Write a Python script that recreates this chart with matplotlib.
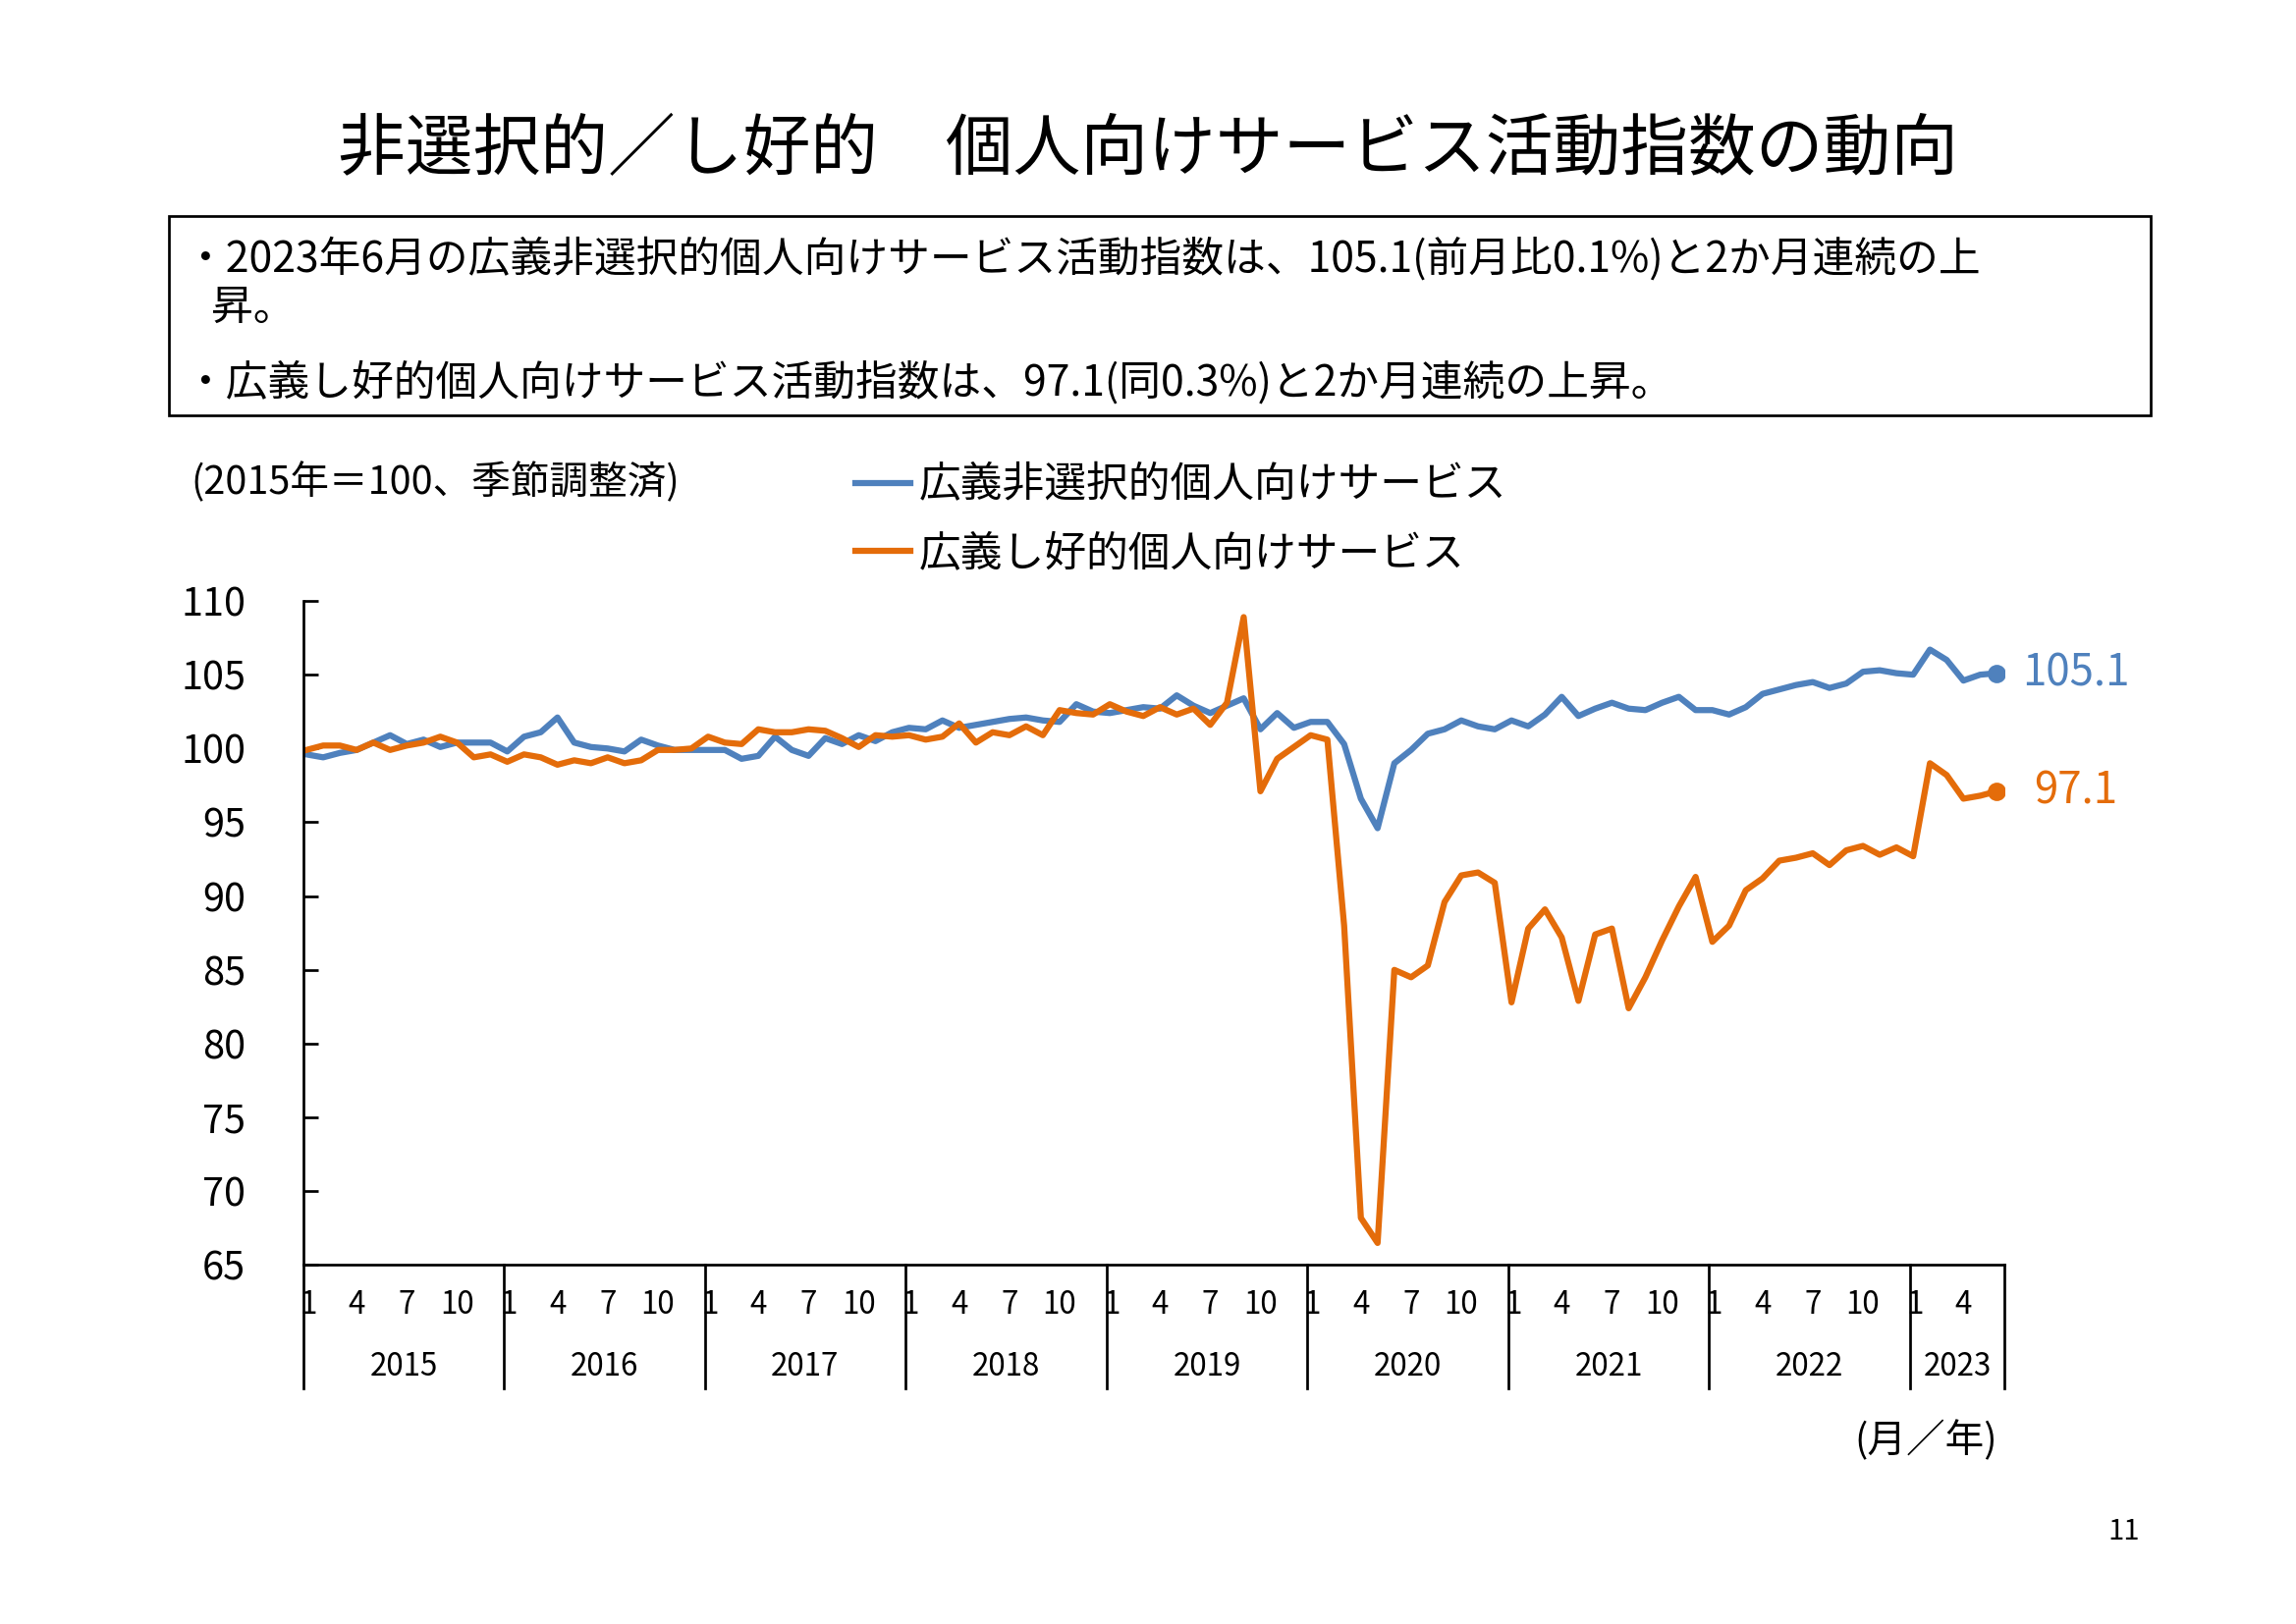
import matplotlib.pyplot as plt
from matplotlib.patches import Rectangle

plt.rcParams["font.family"] = "Noto Sans CJK JP"

YEARS = ["2015", "2016", "2017", "2018", "2019", "2020", "2021", "2022", "2023"]
MONTH_TICKS = ["1", "4", "7", "10"]

NON_SELECTIVE = [
    99.6, 99.4, 99.7, 99.9, 100.4, 100.9, 100.3, 100.6, 100.1, 100.4, 100.4, 100.4,
    99.8, 100.8, 101.1, 102.1, 100.4, 100.1, 100.0, 99.8, 100.6, 100.2, 99.9, 99.9,
    99.9, 99.9, 99.3, 99.5, 100.8, 99.9, 99.5, 100.7, 100.3, 100.9, 100.5, 101.1,
    101.4, 101.3, 101.9, 101.4, 101.6, 101.8, 102.0, 102.1, 101.9, 101.8, 103.0, 102.5,
    102.4, 102.6, 102.8, 102.7, 103.6, 102.9, 102.4, 102.9, 103.4, 101.3, 102.4, 101.4,
    101.8, 101.8, 100.3, 96.6, 94.6, 99.0, 99.9, 101.0, 101.3, 101.9, 101.5, 101.3,
    101.9, 101.5, 102.3, 103.5, 102.2, 102.7, 103.1, 102.7, 102.6, 103.1, 103.5, 102.6,
    102.6, 102.3, 102.8, 103.7, 104.0, 104.3, 104.5, 104.1, 104.4, 105.2, 105.3, 105.1,
    105.0, 106.7, 106.0, 104.6, 105.0, 105.1,
]
SELECTIVE = [
    99.9, 100.2, 100.2, 99.9, 100.4, 99.9, 100.2, 100.4, 100.8, 100.4, 99.4, 99.6,
    99.1, 99.6, 99.4, 98.9, 99.2, 99.0, 99.4, 99.0, 99.2, 99.9, 99.9, 100.0,
    100.8, 100.4, 100.3, 101.3, 101.1, 101.1, 101.3, 101.2, 100.7, 100.1, 100.9, 100.8,
    100.9, 100.6, 100.8, 101.7, 100.4, 101.1, 100.9, 101.5, 100.9, 102.6, 102.4, 102.3,
    103.0, 102.5, 102.2, 102.8, 102.3, 102.7, 101.6, 103.1, 108.9, 97.1, 99.3, 100.1,
    100.9, 100.6, 88.0, 68.2, 66.5, 85.0, 84.5, 85.3, 89.6, 91.4, 91.6, 90.9,
    82.8, 87.8, 89.1, 87.2, 82.9, 87.4, 87.8, 82.4, 84.5, 87.0, 89.3, 91.3,
    86.9, 88.0, 90.4, 91.2, 92.4, 92.6, 92.9, 92.1, 93.1, 93.4, 92.8, 93.3,
    92.7, 99.0, 98.2, 96.6, 96.8, 97.1,
]

BLUE = "#4f81bd"
ORANGE = "#e46c0a"

fig = plt.figure(figsize=(2338 / 150, 1654 / 150), dpi=150)
fig.text(0.5, 0.907, "非選択的／し好的　個人向けサービス活動指数の動向",
         ha="center", va="center", fontsize=33)
fig.patches.append(Rectangle((0.0735, 0.744), 0.863, 0.123, transform=fig.transFigure,
                             fill=False, edgecolor="black", linewidth=1.3))
fig.text(0.080, 0.840, "・2023年6月の広義非選択的個人向けサービス活動指数は、105.1(前月比0.1%)と2か月連続の上",
         fontsize=20.5, va="center")
fig.text(0.092, 0.810, "昇。", fontsize=20.5, va="center")
fig.text(0.080, 0.764, "・広義し好的個人向けサービス活動指数は、97.1(同0.3%)と2か月連続の上昇。",
         fontsize=20.5, va="center")
fig.text(0.083, 0.703, "(2015年＝100、季節調整済)", fontsize=19, va="center")
fig.text(0.870, 0.113, "(月／年)", fontsize=19, va="center", ha="right")
fig.text(0.932, 0.057, "11", fontsize=14, va="center", ha="right")

ax = fig.add_axes([0.132, 0.221, 0.741, 0.409])
x = list(range(len(NON_SELECTIVE)))
ax.plot(x, NON_SELECTIVE, color=BLUE, lw=3, label="広義非選択的個人向けサービス")
ax.plot(x, SELECTIVE, color=ORANGE, lw=3, label="広義し好的個人向けサービス")
ax.plot(x[-1], NON_SELECTIVE[-1], "o", color=BLUE, ms=8)
ax.plot(x[-1], SELECTIVE[-1], "o", color=ORANGE, ms=8)
ax.text(x[-1] + 1.5, NON_SELECTIVE[-1], f"{NON_SELECTIVE[-1]:.1f}", color=BLUE,
        fontsize=21, va="center")
ax.text(x[-1] + 2.2, SELECTIVE[-1], f"{SELECTIVE[-1]:.1f}", color=ORANGE,
        fontsize=21, va="center")

ax.set_ylim(65, 110)
ax.set_yticks(range(65, 111, 5))
ax.tick_params(axis="y", labelsize=19, direction="in", length=7, width=1.3, pad=28)
ax.set_xlim(-0.2, 101.45)
ax.set_xticks([])
for side in ("top", "right"):
    ax.spines[side].set_visible(False)
ax.spines["left"].set_linewidth(1.3)
ax.spines["bottom"].set_linewidth(1.3)

trans = ax.get_xaxis_transform()
for i, year in enumerate(YEARS):
    start = i * 12 - 0.2
    ax.plot([start, start], [0, -0.185], transform=trans, color="black", lw=1.3, clip_on=False)
    n_months = 12 if i < len(YEARS) - 1 else 6
    end = start + 12 if n_months == 12 else 101.45
    for j, m in enumerate(MONTH_TICKS):
        idx = i * 12 + j * 3
        if idx >= len(NON_SELECTIVE):
            continue
        ax.text(idx + (0.1 if j == 0 else 0), -0.06, m, transform=trans, ha="center",
                va="center", fontsize=15)
    ax.text((start + end) / 2, -0.153, year, transform=trans, ha="center",
            va="center", fontsize=15)
ax.plot([101.45, 101.45], [0, -0.185], transform=trans, color="black", lw=1.3, clip_on=False)

ax.legend(loc="lower left", bbox_to_anchor=(0.31, 1.0), frameon=False, fontsize=20.5,
          handlelength=1.3, handletextpad=0.2, labelspacing=0.6, borderaxespad=0.2)

fig.savefig("out.png", dpi=150)
